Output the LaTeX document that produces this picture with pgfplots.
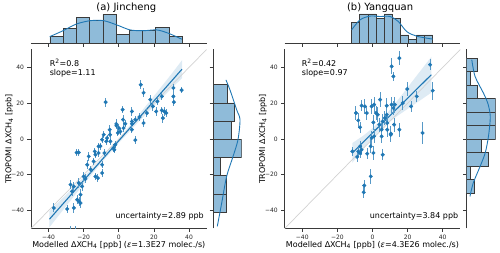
\documentclass[border=0pt]{standalone}
\usepackage{pgfplots}
\pgfplotsset{compat=1.18}
\usepackage{pgfplotstable}
\usepackage{fontspec}
\setmainfont{DejaVu Sans}
\definecolor{tabblue}{HTML}{1F77B4}
\definecolor{histfill}{RGB}{143,187,217}
\definecolor{spine}{HTML}{3A3A3A}

\pgfplotstableread{
x y ey
-7.5 20.6 2.5
12.5 30.3 2.5
14.1 25.8 2.5
31.1 28.5 2.5
35.8 27.3 1.5
31.1 23.8 2.5
31.4 20.6 2.0
24.5 23.8 2.0
17.9 22.0 2.5
22.0 21.0 2.0
19.4 18.2 2.5
16.0 14.5 2.0
11.8 12.3 2.0
9.4 10.8 2.0
7.5 15.4 2.5
2.4 10.8 2.5
7.5 9.8 2.0
14.1 8.9 2.0
2.7 6.1 2.0
21.3 15.4 2.5
24.5 16.0 2.0
26.0 15.4 2.5
25.1 11.7 2.5
27.0 14.5 2.0
7.5 5.2 2.0
9.4 -0.6 2.0
2.2 16.4 2.0
-1.4 8.4 2.5
-5.2 5.2 2.5
0.1 6.1 2.0
-0.5 3.4 2.0
-8.6 2.4 2.0
-9.5 -0.4 2.0
-7.1 -1.3 2.0
-11.5 -4.1 2.0
-4.8 -1.3 2.0
-2.0 -3.2 2.0
-2.6 -6.0 2.0
-13.7 -6.9 2.0
-22.8 -7.5 2.0
-24.0 -7.6 2.0
-6.7 0.5 2.0
-3.0 -5.0 2.0
3.7 8.5 2.0
-11.5 -7.8 2.0
-8.2 -7.8 2.0
-17.1 -9.7 2.5
-13.3 -8.8 2.0
-18.0 -14.4 2.5
-14.3 -12.5 2.0
-9.5 -14.4 2.0
-20.0 -20.9 2.5
-13.3 -20.9 2.0
-11.9 -21.8 2.0
-9.5 -19.0 2.0
-22.8 -24.6 3.0
-20.9 -26.5 2.5
-26.6 -29.3 2.5
-25.6 -26.5 2.5
-21.8 -31.1 3.0
-23.7 -33.9 2.5
-21.8 -35.8 2.5
-25.6 -38.5 3.0
-29.4 -39.1 2.5
-37.0 -38.5 2.5
-27.5 -25.5 2.5
-16.0 -17.0 2.0
-19.0 -22.3 2.5
-22.6 -35.0 2.5
-5.0 2.4 2.0
0.9 4.2 2.0
7.5 8.5 2.0
-1.4 7.4 2.0
-10.5 -4.0 2.0
-27.3 -53.0 4.5
-24.5 -53.0 4.5
}\dataA

\pgfplotstableread{
x y ey
15.3 45.2 4
10.9 40.6 4.5
11.9 35.0 2.5
32.8 41.5 3
34.3 27.0 5
19.8 27.9 4
25.2 23.8 3
4.3 22.0 4
8.1 18.6 4.5
10.9 19.2 4.5
12.8 19.2 4.5
17.2 20.1 4
22.0 18.2 3
-6.2 18.6 3
-4.3 18.2 4
-3.3 14.5 4
-9.4 14.5 4
3.0 13.6 4
-8.1 10.4 4
-7.1 6.5 3
0.5 9.3 4
5.8 9.8 4
7.1 11.7 4
3.9 8.0 4
-0.5 18.2 4
0.9 19.2 4
2.0 14.5 4
8.1 13.6 4
11.9 17.3 4
8.4 8.9 4
8.4 5.2 4
5.2 5.2 4
12.3 8.0 4
15.3 5.2 4
5.2 1.5 4
10.4 2.4 4
28.5 3.4 6
-0.5 0.6 4
0.9 1.5 4
-1.0 -4.1 4
0.5 -7.8 4
-3.0 -8.2 3
-6.2 -6.0 3
-7.1 -4.1 3
-8.1 -6.9 3
-8.7 -10.0 3
-11.5 -6.9 2.5
5.8 -8.8 3
-1.0 -20.9 4
-4.7 -26.0 3
-5.0 -29.8 3
10.5 3.0 4
-7.1 -7.8 3
}\dataB

\tikzset{ann/.style={font=\fontsize{8}{9.5}\selectfont, inner sep=0pt}}

\pgfplotsset{
  mainax/.style={
    scale only axis, width=175.6pt, height=179pt,
    xmin=-50, xmax=50, ymin=-50, ymax=50,
    clip marker paths=true,
    axis x line*=bottom, axis y line*=left,
    axis line style={spine, line width=0.8pt},
    tick align=outside, major tick length=3.5pt,
    tick style={spine, line width=0.8pt},
    xtick={-40,-20,0,20,40}, ytick={-40,-20,0,20,40},
    xticklabels={−40,−20,0,20,40}, yticklabels={−40,−20,0,20,40},
    tick label style={font=\fontsize{6}{7}\selectfont, text=black!85},
    label style={font=\fontsize{8}{9.5}\selectfont},
    xlabel style={at={(axis description cs:0.5,-0.1034)}, anchor=base, inner sep=0pt},
    ylabel style={at={(axis description cs:-0.1116,0.5)}, anchor=base, inner sep=0pt},
    ylabel={TROPOMI ΔXCH\textsubscript{4} [ppb]},
  },
  topax/.style={
    scale only axis, width=175.6pt, height=29pt,
    xmin=-50, xmax=50, ymin=0,
    axis x line*=bottom, hide y axis,
    axis line style={spine, line width=0.8pt},
    tick align=outside, major tick length=3.5pt,
    tick style={spine, line width=0.8pt},
    xtick={-40,-20,0,20,40}, xticklabels={},
    every axis title shift=0pt,
    title style={font=\fontsize{10}{12}\selectfont, anchor=base, inner sep=0pt},
  },
  rightax/.style={
    scale only axis, height=179pt,
    ymin=-50, ymax=50, xmin=0,
    axis y line*=left, hide x axis,
    axis line style={spine, line width=0.8pt},
    tick align=outside, major tick length=3.5pt,
    tick style={spine, line width=0.8pt},
    ytick={-40,-20,0,20,40}, yticklabels={},
  },
  histbar/.style={fill=histfill, draw=spine, line width=0.6pt},
  kde/.style={tabblue, line width=0.9pt, smooth, no marks},
  pts/.style={only marks, mark=*, mark size=1.8pt, mark options={fill=tabblue, draw=tabblue},
    error bars/.cd, y dir=both, y explicit, error mark=none,
    error bar style={tabblue!75!white, line width=1pt}},
}

\begin{document}
\begin{tikzpicture}
\path[use as bounding box] (0,0) rectangle (500pt,253pt);

% ---------------- Panel (a) ----------------
\begin{axis}[mainax, at={(31pt,24.5pt)}, anchor=south west,
  xlabel={Modelled ΔXCH\textsubscript{4} [ppb] (\textit{ε}=1.3E27 molec./s)}]
\addplot[draw=none, fill=tabblue, fill opacity=0.15] coordinates {
(-39.5,-40.3) (-30,-31.1) (-20,-21.2) (-10,-10.8) (0,0.2) (10,11.9) (20,24) (30,36.3) (36,44)
(36,34) (30,28.3) (20,18.4) (10,8.3) (0,-2.2) (-10,-13.4) (-20,-25.2) (-30,-37.5) (-39.5,-49.3)} -- cycle;
\addplot[gray!35, line width=0.7pt] coordinates {(-50,-50) (50,50)};
\addplot[tabblue, line width=1.1pt] coordinates {(-39.5,-44.8) (36,39.0)};
\addplot[pts] table[x=x, y=y, y error=ey] {\dataA};
\node[ann, anchor=base west] at (axis cs:-39.4,40.6) {R\textsuperscript{2}=0.8};
\node[ann, anchor=base west] at (axis cs:-39.4,35.2) {slope=1.11};
\node[ann, anchor=base east] at (axis cs:48.5,-44.5) {uncertainty=2.89 ppb};
\end{axis}

\begin{axis}[topax, at={(31pt,209.7pt)}, anchor=south west, ymax=20,
  title={(a) Jincheng}, title style={at={(axis description cs:0.543,1.114)}}]
\addplot[histbar, ybar interval] coordinates {
(-39.2,5) (-31.7,10) (-24.2,18) (-16.6,16) (-9.1,20) (-1.6,6) (5.9,9) (13.4,9) (21.0,11) (28.5,5) (36.0,5)};
\addplot[kde] coordinates {
(-39.3,4.6) (-31.7,8.7) (-24.1,13.3) (-16.2,15.6) (-8.6,15.6) (-1,12.6) (6.5,9.2) (14.1,8.7) (21.7,9.2) (28.3,6.9) (35.9,2.8)};
\end{axis}

\begin{axis}[rightax, width=28.7pt, xmax=20, at={(213pt,24.5pt)}, anchor=south west]
\addplot[histbar, xbar interval] coordinates {
(9,-40.8) (9,-30.64) (5,-20.49) (20,-10.33) (13,-0.17) (15,9.99) (10,20.14) (10,30.3)};
\addplot[kde] coordinates {
(3,-48.8) (6.1,-35.6) (9.5,-20.9) (13.9,-9.9) (17.4,-0.4) (18.8,10.8) (16.5,16.3) (11.8,27.5) (9,33)};
\end{axis}

% ---------------- Panel (b) ----------------
\begin{axis}[mainax, at={(284.7pt,24.5pt)}, anchor=south west,
  xlabel={Modelled ΔXCH\textsubscript{4} [ppb] (\textit{ε}=4.3E26 molec./s)}]
\addplot[draw=none, fill=tabblue, fill opacity=0.15] coordinates {
(-11.5,-2.3) (-5,2.05) (0,6.0) (5,10.75) (10,16.3) (15,22.45) (20,28.8) (25,35.15) (33.5,45.9)
(33.5,25.9) (25,20.15) (20,16.8) (15,13.45) (10,9.9) (5,5.75) (0,0.8) (-5,-4.95) (-11.5,-13.3)} -- cycle;
\addplot[gray!35, line width=0.7pt] coordinates {(-50,-50) (50,50)};
\addplot[tabblue, line width=1.1pt] coordinates {(-11.5,-7.8) (33.5,35.9)};
\addplot[pts] table[x=x, y=y, y error=ey] {\dataB};
\node[ann, anchor=base west] at (axis cs:-40.3,40.6) {R\textsuperscript{2}=0.42};
\node[ann, anchor=base west] at (axis cs:-40.3,35.2) {slope=0.97};
\node[ann, anchor=base east] at (axis cs:48.9,-44.5) {uncertainty=3.84 ppb};
\end{axis}

\begin{axis}[topax, at={(284.7pt,209.7pt)}, anchor=south west, ymax=7,
  height=29.3pt,
  title={(b) Yangquan}, title style={at={(axis description cs:0.543,1.114)}}]
\addplot[histbar, ybar interval] coordinates {
(-11.9,5) (-7.28,7) (-2.66,7) (1.96,6) (6.58,7) (11.2,6) (15.82,2) (20.44,1) (25.06,2) (29.68,2) (34.3,2)};
\addplot[kde] coordinates {
(-11.9,3.2) (-7.1,5.6) (-1.4,6.5) (4.3,6.4) (10,6.4) (14.7,5.2) (19.5,2.8) (25.2,1.7) (34.3,1.0)};
\end{axis}

\begin{axis}[rightax, width=29pt, xmax=8, at={(466.7pt,24.5pt)}, anchor=south west]
\addplot[histbar, xbar interval] coordinates {
(2,-30.2) (1,-22.66) (6,-15.12) (4,-7.58) (8,-0.04) (8,7.5) (8,15.04) (3,22.58) (1,30.12) (3,37.66) (3,45.2)};
\addplot[kde] coordinates {
(0.9,-32.1) (1.8,-24.6) (3.7,-15.3) (5.1,-7.8) (6.0,1.5) (6.5,12.6) (5.8,20.1) (4.6,25.7) (2.3,35) (1.4,44.3)};
\end{axis}
\end{tikzpicture}
\end{document}
